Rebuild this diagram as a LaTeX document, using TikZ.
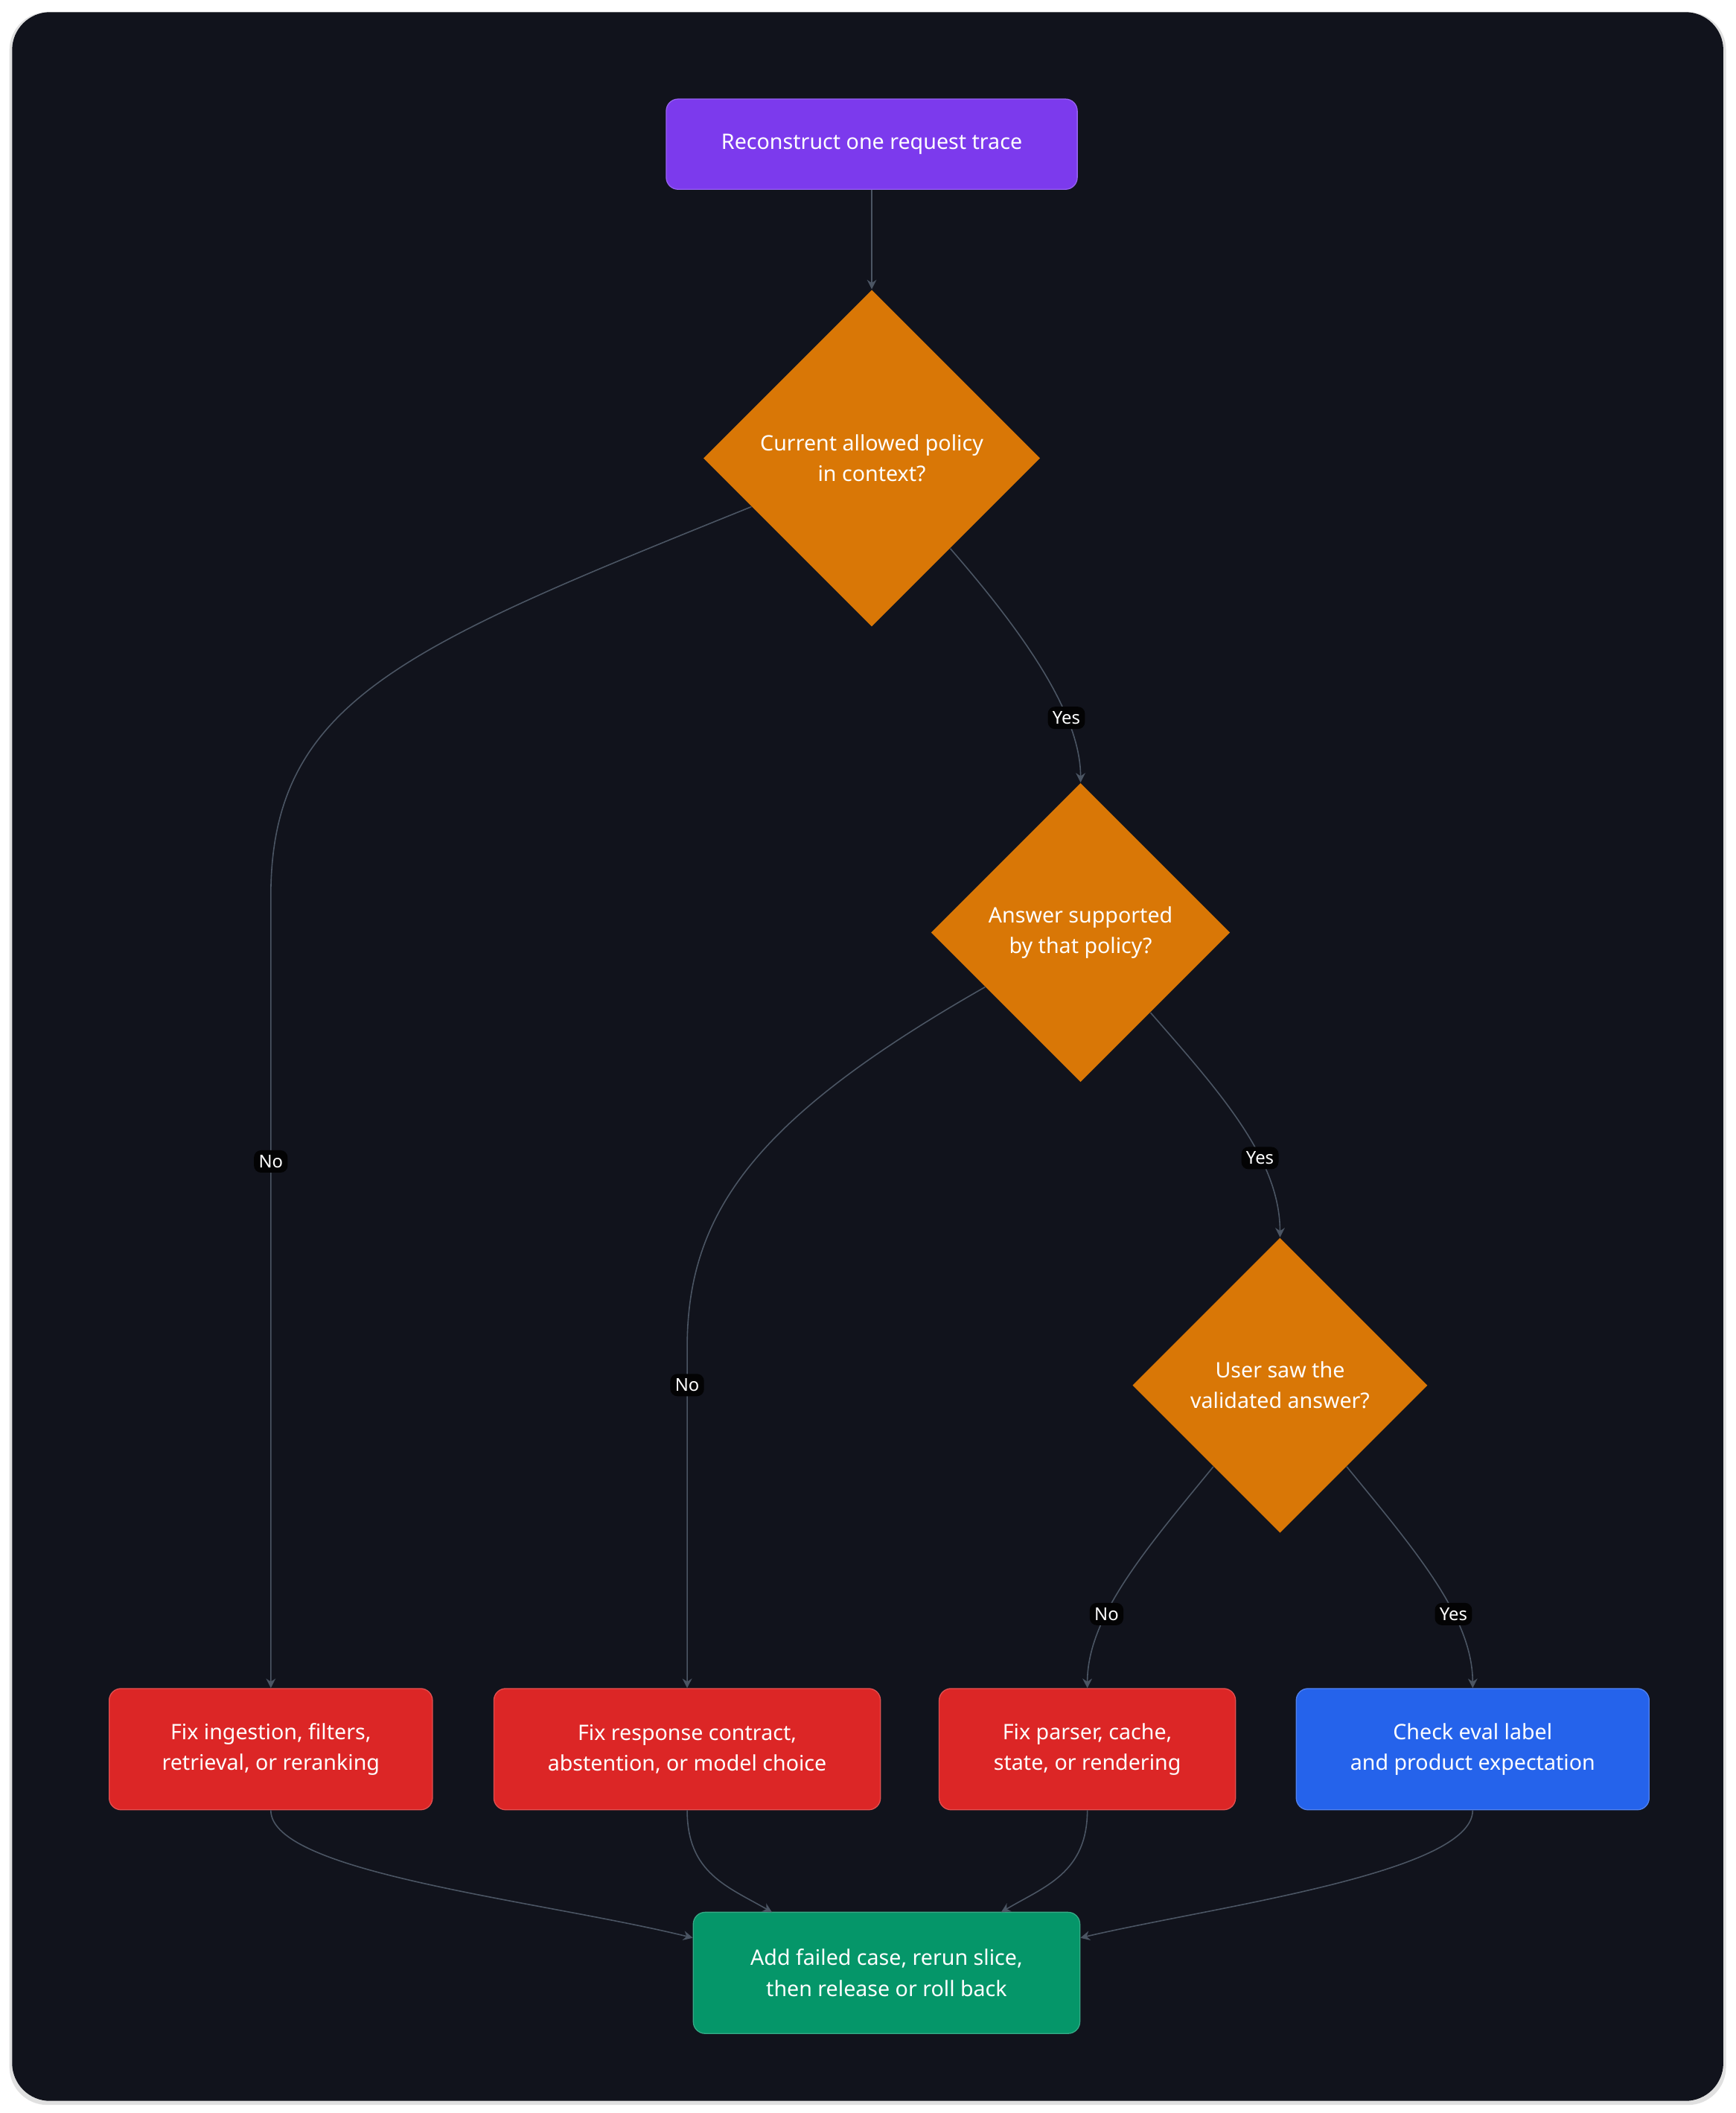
\documentclass[tikz,border=0pt]{standalone}
\usepackage{fontspec}
\setmainfont{Noto Sans}
\usetikzlibrary{arrows.meta,shapes.geometric}
\definecolor{bgdark}{HTML}{11131C}
\definecolor{linegrey}{HTML}{4B5563}
\definecolor{startpurple}{HTML}{7C3AED}
\definecolor{askorange}{HTML}{D97706}
\definecolor{fixred}{HTML}{DC2626}
\definecolor{checkblue}{HTML}{2563EB}
\definecolor{donegreen}{HTML}{059669}
\tikzset{
  box/.style={draw=#1!80!white, fill=#1, rounded corners=5pt, text=white,
    align=center, font=\fontsize{9}{13}\selectfont, inner sep=0pt},
  ask/.style={diamond, fill=askorange, text=white, align=center,
    font=\fontsize{9}{13}\selectfont, inner sep=0pt},
  link/.style={draw=linegrey, line width=0.5pt, -{Stealth[length=4pt,width=4pt]}},
  tag/.style={fill=black!85!bgdark, text=white, font=\fontsize{7.5}{9}\selectfont,
    inner sep=2pt, rounded corners=3pt}
}
\begin{document}
\begin{tikzpicture}[x=0.02cm, y=-0.02cm]
  \useasboundingbox (0,0) rectangle (1288,1568);
  \fill[white] (0,0) rectangle (1288,1568);
  \fill[black!12, rounded corners=16pt] (7,9) rectangle (1281,1562);
  \fill[bgdark, rounded corners=16pt] (9,9) rectangle (1279,1559);

  % nodes
  \node[box=startpurple, minimum width=305\pgflinewidth*0+8.6cm*0.7096, minimum height=1.34cm] (trace) at (647,107) {Reconstruct one request trace};
  \node[ask, minimum width=5cm, minimum height=5cm] (inctx) at (647,340) {Current allowed policy\\in context?};
  \node[ask, minimum width=4.44cm, minimum height=4.44cm] (supp) at (802,692) {Answer supported\\by that policy?};
  \node[ask, minimum width=4.38cm, minimum height=4.38cm] (saw) at (950,1028) {User saw the\\validated answer?};
  \node[box=fixred, minimum width=4.8cm, minimum height=1.8cm] (fixret) at (201,1298) {Fix ingestion, filters,\\retrieval, or reranking};
  \node[box=fixred, minimum width=5.74cm, minimum height=1.8cm] (fixresp) at (510,1298) {Fix response contract,\\abstention, or model choice};
  \node[box=fixred, minimum width=4.4cm, minimum height=1.8cm] (fixparse) at (807,1298) {Fix parser, cache,\\state, or rendering};
  \node[box=checkblue, minimum width=5.24cm, minimum height=1.8cm] (checkeval) at (1093,1298) {Check eval label\\and product expectation};
  \node[box=donegreen, minimum width=5.74cm, minimum height=1.8cm] (rerun) at (658,1464) {Add failed case, rerun slice,\\then release or roll back};

  % decisions
  \draw[link] (trace) -- (inctx);
  \draw[link] (inctx) .. controls (300,480) and (201,520) .. (201,665) -- node[tag, pos=0.335]{No} (fixret);
  \draw[link] (inctx) .. controls (760,470) and (802,530) .. node[tag, pos=0.7]{Yes} (supp);
  \draw[link] (supp) .. controls (560,830) and (510,900) .. (510,1000) -- node[tag, pos=0.11]{No} (fixresp);
  \draw[link] (supp) .. controls (905,810) and (950,860) .. node[tag, pos=0.65]{Yes} (saw);
  \draw[link] (saw) .. controls (850,1150) and (807,1200) .. node[tag, pos=0.65]{No} (fixparse);
  \draw[link] (saw) .. controls (1050,1150) and (1093,1200) .. node[tag, pos=0.65]{Yes} (checkeval);

  % merge
  \draw[link] (fixret) .. controls (201,1390) and (400,1410) .. (rerun.west |- 0,1438);
  \draw[link] (fixresp) .. controls (510,1390) and (540,1400) .. (573,1419);
  \draw[link] (fixparse) .. controls (807,1390) and (775,1400) .. (743,1419);
  \draw[link] (checkeval) .. controls (1093,1390) and (900,1415) .. (rerun.east |- 0,1438);
\end{tikzpicture}
\end{document}
